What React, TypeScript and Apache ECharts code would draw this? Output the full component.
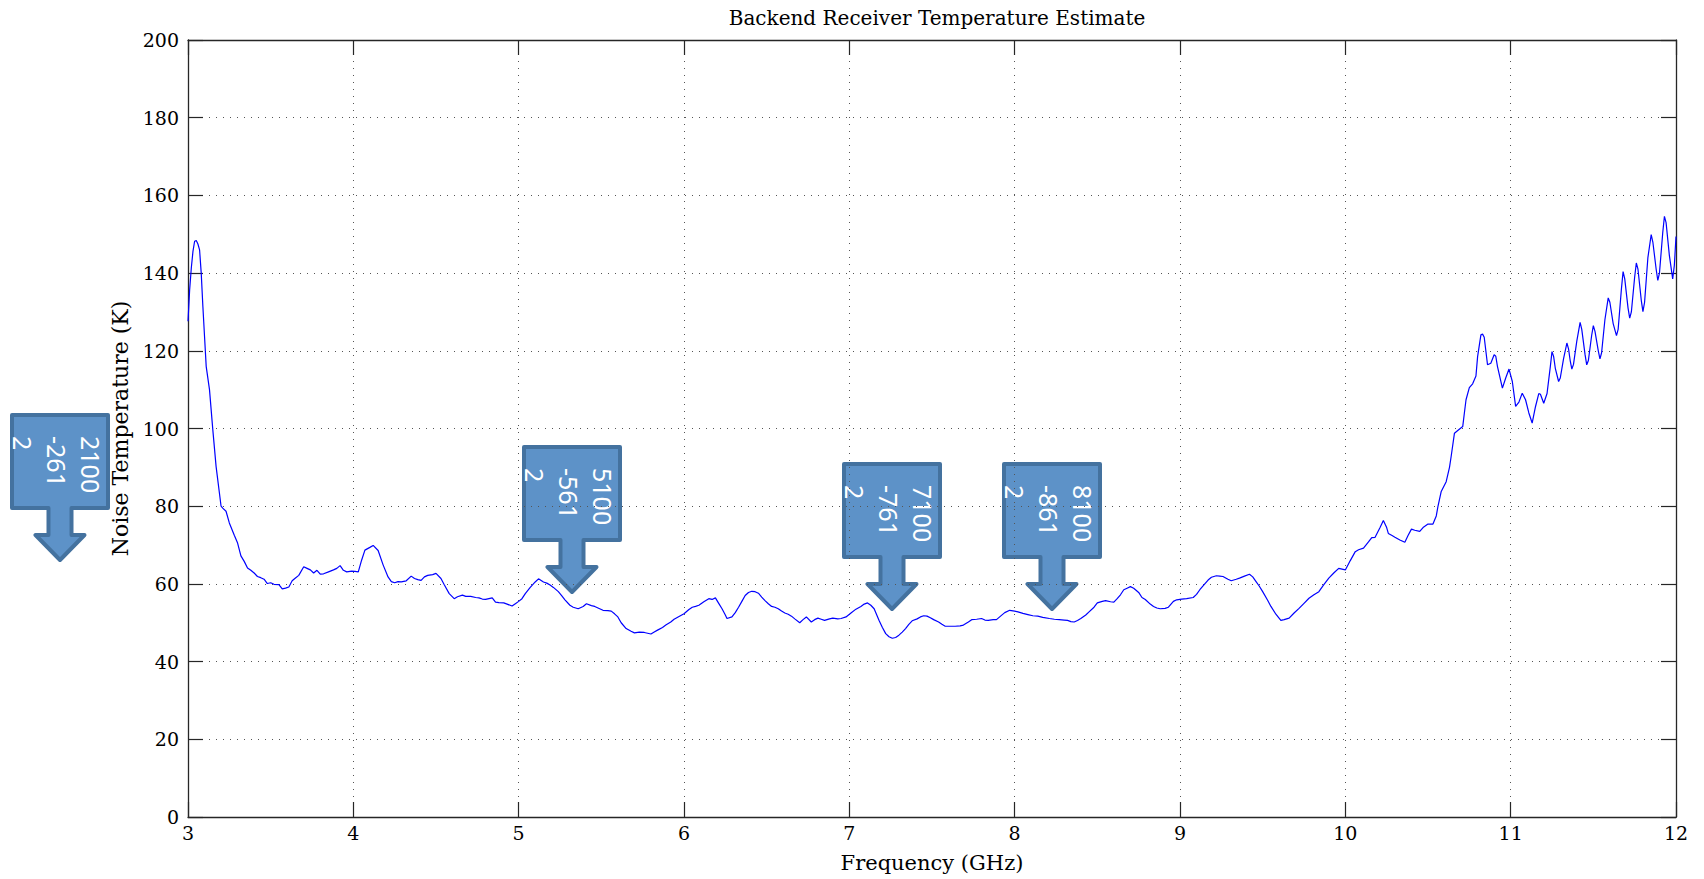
import React, { useEffect, useRef } from "react";
import * as echarts from "echarts";

const freq = [
  3.0, 3.01, 3.02, 3.03, 3.04, 3.05, 3.06, 3.07, 3.08, 3.09, 3.1, 3.11, 3.13, 3.15, 3.17, 3.19, 3.2, 3.21, 3.23, 3.25,
  3.28, 3.3, 3.32, 3.34, 3.36, 3.38, 3.4, 3.42, 3.44, 3.46, 3.48, 3.5, 3.52, 3.55, 3.57, 3.59, 3.61, 3.63, 3.65, 3.67,
  3.7, 3.72, 3.74, 3.76, 3.78, 3.8, 3.82, 3.85, 3.88, 3.9, 3.92, 3.94, 3.96, 3.99, 4.01, 4.03, 4.05, 4.07, 4.1, 4.12,
  4.15, 4.18, 4.21, 4.23, 4.25, 4.27, 4.29, 4.32, 4.35, 4.37, 4.39, 4.41, 4.43, 4.45, 4.48, 4.5, 4.53, 4.55, 4.58, 4.61,
  4.63, 4.66, 4.68, 4.71, 4.74, 4.76, 4.78, 4.8, 4.82, 4.84, 4.86, 4.88, 4.91, 4.93, 4.96, 4.98, 5.0, 5.02, 5.04, 5.07,
  5.1, 5.12, 5.15, 5.17, 5.19, 5.21, 5.24, 5.26, 5.28, 5.31, 5.33, 5.36, 5.39, 5.41, 5.44, 5.46, 5.49, 5.51, 5.54, 5.56,
  5.58, 5.6, 5.62, 5.65, 5.68, 5.7, 5.73, 5.76, 5.78, 5.8, 5.82, 5.84, 5.87, 5.89, 5.92, 5.94, 5.97, 6.0, 6.03, 6.05,
  6.07, 6.09, 6.12, 6.15, 6.17, 6.19, 6.21, 6.23, 6.25, 6.26, 6.29, 6.31, 6.33, 6.35, 6.37, 6.39, 6.41, 6.43, 6.45, 6.47,
  6.49, 6.51, 6.53, 6.55, 6.57, 6.59, 6.61, 6.63, 6.65, 6.67, 6.7, 6.72, 6.74, 6.77, 6.79, 6.81, 6.83, 6.85, 6.88, 6.9,
  6.93, 6.95, 6.98, 7.01, 7.04, 7.07, 7.09, 7.11, 7.13, 7.15, 7.18, 7.2, 7.22, 7.24, 7.26, 7.28, 7.3, 7.32, 7.34, 7.36,
  7.38, 7.41, 7.43, 7.45, 7.47, 7.49, 7.51, 7.54, 7.56, 7.58, 7.61, 7.64, 7.67, 7.69, 7.72, 7.74, 7.77, 7.8, 7.82, 7.84,
  7.87, 7.89, 7.92, 7.94, 7.97, 8.0, 8.02, 8.05, 8.08, 8.11, 8.14, 8.17, 8.21, 8.24, 8.27, 8.3, 8.32, 8.34, 8.36, 8.38,
  8.4, 8.43, 8.45, 8.48, 8.5, 8.53, 8.55, 8.58, 8.6, 8.62, 8.64, 8.66, 8.68, 8.7, 8.72, 8.75, 8.77, 8.79, 8.82, 8.84,
  8.86, 8.88, 8.91, 8.93, 8.96, 8.98, 9.01, 9.04, 9.08, 9.1, 9.12, 9.15, 9.17, 9.19, 9.22, 9.24, 9.26, 9.29, 9.31, 9.34,
  9.36, 9.39, 9.42, 9.44, 9.46, 9.48, 9.5, 9.53, 9.55, 9.58, 9.61, 9.63, 9.66, 9.69, 9.72, 9.75, 9.78, 9.81, 9.84, 9.87,
  9.9, 9.93, 9.96, 10.0, 10.03, 10.06, 10.08, 10.11, 10.14, 10.16, 10.18, 10.21, 10.23, 10.25, 10.26, 10.28, 10.3, 10.33, 10.36, 10.38,
  10.4, 10.42, 10.45, 10.47, 10.5, 10.53, 10.55, 10.56, 10.58, 10.61, 10.63, 10.64, 10.66, 10.68, 10.71, 10.72, 10.73, 10.75, 10.77, 10.79,
  10.8, 10.82, 10.83, 10.84, 10.86, 10.88, 10.9, 10.91, 10.92, 10.95, 10.97, 10.99, 11.01, 11.03, 11.05, 11.07, 11.09, 11.11, 11.13, 11.15,
  11.17, 11.18, 11.2, 11.22, 11.24, 11.25, 11.26, 11.27, 11.29, 11.3, 11.32, 11.34, 11.35, 11.36, 11.37, 11.38, 11.4, 11.42, 11.43, 11.45,
  11.46, 11.47, 11.49, 11.5, 11.51, 11.53, 11.54, 11.55, 11.57, 11.59, 11.6, 11.62, 11.64, 11.65, 11.67, 11.68, 11.69, 11.71, 11.72, 11.73,
  11.75, 11.76, 11.77, 11.79, 11.8, 11.81, 11.83, 11.85, 11.86, 11.88, 11.89, 11.9, 11.92, 11.93, 11.94, 11.96, 11.98, 11.99, 12.0,
];

const temp = [
  127.6, 135.7, 141.3, 145.6, 148.2, 148.4, 147.5, 146.0, 140.0, 131.4, 123.7, 116.0, 110.0, 99.7, 90.2, 83.4, 80.0, 79.5, 78.7, 75.7,
  72.5, 70.5, 67.2, 65.8, 64.1, 63.5, 62.8, 61.9, 61.6, 61.2, 60.1, 60.3, 59.9, 59.8, 58.7, 58.9, 59.2, 60.8, 61.5, 62.2,
  64.4, 64.0, 63.6, 62.8, 63.5, 62.5, 62.6, 63.1, 63.6, 64.0, 64.7, 63.5, 63.1, 63.3, 63.2, 63.1, 66.1, 68.7, 69.4, 69.9,
  68.6, 64.9, 61.8, 60.6, 60.3, 60.6, 60.5, 60.8, 62.0, 61.4, 61.1, 60.9, 61.8, 62.2, 62.4, 62.7, 61.4, 59.8, 57.5, 56.2,
  56.7, 57.1, 56.8, 56.8, 56.5, 56.4, 56.1, 56.0, 56.2, 56.4, 55.3, 55.2, 55.1, 54.8, 54.3, 54.9, 55.5, 56.2, 57.5, 59.1,
  60.5, 61.3, 60.5, 60.2, 59.7, 59.1, 58.0, 57.0, 55.9, 54.5, 54.0, 53.6, 54.2, 54.9, 54.4, 54.2, 53.6, 53.2, 53.1, 53.0,
  52.3, 51.5, 50.0, 48.5, 47.8, 47.4, 47.6, 47.5, 47.3, 47.1, 47.6, 48.1, 48.8, 49.4, 50.2, 50.9, 51.6, 52.3, 53.4, 54.0,
  54.2, 54.5, 55.4, 56.2, 56.0, 56.4, 55.0, 53.6, 52.0, 51.1, 51.5, 52.6, 54.0, 55.5, 57.0, 57.8, 58.1, 58.0, 57.6, 56.6,
  55.7, 54.9, 54.2, 54.0, 53.6, 53.0, 52.5, 52.2, 51.7, 51.0, 50.0, 50.8, 51.5, 50.2, 50.8, 51.2, 50.9, 50.6, 51.0, 51.2,
  51.0, 51.1, 51.5, 52.5, 53.5, 54.2, 54.8, 55.1, 54.5, 53.6, 50.6, 48.8, 47.2, 46.4, 46.0, 46.2, 46.8, 47.6, 48.5, 49.6,
  50.5, 51.0, 51.5, 51.8, 51.7, 51.3, 50.8, 50.2, 49.6, 49.1, 49.1, 49.1, 49.2, 49.4, 50.2, 50.8, 50.9, 51.1, 50.7, 50.6,
  50.8, 50.8, 51.9, 52.6, 53.2, 53.0, 52.8, 52.4, 52.1, 51.8, 51.7, 51.4, 51.1, 50.9, 50.8, 50.7, 50.6, 50.3, 50.2, 50.6,
  51.1, 52.0, 52.8, 54.0, 55.1, 55.5, 55.7, 55.4, 55.3, 56.2, 57.2, 58.5, 58.9, 59.3, 58.9, 57.8, 56.5, 56.0, 54.8, 54.2,
  53.8, 53.6, 53.7, 54.0, 55.5, 55.9, 56.1, 56.2, 56.5, 57.3, 58.5, 60.0, 61.0, 61.7, 62.1, 62.0, 61.9, 61.2, 60.8, 61.2,
  61.5, 62.0, 62.5, 61.8, 60.6, 59.4, 58.0, 55.8, 54.2, 52.2, 50.6, 50.8, 51.2, 52.5, 53.7, 55.0, 56.3, 57.2, 58.0, 59.8,
  61.5, 62.8, 64.0, 63.6, 66.0, 68.3, 68.8, 69.2, 70.8, 71.9, 72.0, 74.5, 76.3, 74.5, 73.0, 72.5, 72.0, 71.3, 70.7, 72.5,
  74.1, 73.8, 73.5, 74.5, 75.4, 75.4, 77.5, 79.9, 83.8, 86.3, 90.0, 92.8, 98.8, 99.5, 100.5, 104.0, 107.4, 110.5, 111.5, 113.5,
  118.5, 124.1, 124.3, 123.5, 116.4, 116.8, 119.0, 118.6, 116.0, 110.4, 113.0, 115.3, 112.1, 105.7, 106.8, 109.1, 107.4, 104.0, 101.4, 105.6,
  109.0, 108.8, 106.5, 109.0, 116.0, 119.8, 118.5, 115.5, 112.1, 113.0, 118.0, 122.0, 120.5, 117.5, 115.3, 116.5, 122.5, 127.3, 125.5, 119.0,
  116.4, 117.5, 124.0, 126.5, 125.0, 120.0, 117.9, 119.5, 128.0, 133.6, 132.5, 127.0, 123.9, 125.5, 136.0, 140.4, 138.5, 131.0, 128.4, 130.0,
  139.0, 142.6, 141.0, 133.0, 130.1, 132.5, 144.0, 149.9, 148.0, 141.0, 138.1, 140.0, 150.5, 154.6, 153.0, 144.5, 138.5, 142.0, 149.4,
];

const calloutLabels = [
  ["2100", "-261", "2"],
  ["5100", "-561", "2"],
  ["7100", "-761", "2"],
  ["8100", "-861", "2"],
];

// layout: top-left corner of each callout box (pixels)
const calloutBoxes = [
  [10, 413],
  [522, 445],
  [842, 462],
  [1002, 462],
];

const serif = "DejaVu Serif";

function calloutGraphic(left: number, top: number, lines: string[]) {
  const cx = left + 50;
  const pts = [
    [left + 2, top + 2],
    [left + 98, top + 2],
    [left + 98, top + 95],
    [cx + 11.5, top + 95],
    [cx + 11.5, top + 122],
    [cx + 24.5, top + 122],
    [cx, top + 147],
    [cx - 24.5, top + 122],
    [cx - 11.5, top + 122],
    [cx - 11.5, top + 95],
    [left + 2, top + 95],
  ];
  return {
    type: "group",
    z: 100,
    children: [
      {
        type: "polygon",
        shape: { points: pts },
        style: { fill: "#5D92C8", stroke: "#44729F", lineWidth: 4, lineJoin: "round" },
      },
      {
        type: "text",
        x: left + 98,
        y: top + 23,
        rotation: -Math.PI / 2,
        style: {
          text: lines.join("\n"),
          fill: "#ffffff",
          font: '25px "Noto Sans"',
          lineHeight: 34,
          align: "left",
          verticalAlign: "top",
          textAlign: "left",
          textVerticalAlign: "top",
        },
      },
    ],
  };
}

export default function App() {
  const ref = useRef<HTMLDivElement>(null);
  useEffect(() => {
    if (!ref.current) return;
    const chart = echarts.init(ref.current, undefined, { renderer: "svg" });
    const data = freq.map((f, i) => [f, temp[i]]);
    const axisColor = "#262626";
    const labelStyle = { color: "#000", fontFamily: serif, fontSize: 19 };
    chart.setOption({
      animation: false,
      backgroundColor: "#ffffff",
      title: {
        text: "Backend Receiver Temperature Estimate",
        left: 932,
        textAlign: "center",
        top: 3,
        textStyle: { fontFamily: serif, fontSize: 20, fontWeight: "normal", color: "#000" },
      },
      grid: { left: 188, right: 28, top: 40, bottom: 62, containLabel: false },
      xAxis: [
        {
          type: "value",
          position: "bottom",
          min: 3,
          max: 12,
          interval: 1,
          name: "Frequency (GHz)",
          nameLocation: "middle",
          nameGap: 35,
          nameTextStyle: { fontFamily: serif, fontSize: 21, color: "#000" },
          axisLine: { show: true, onZero: false, lineStyle: { color: axisColor, width: 1.3 } },
          axisTick: { show: true, inside: true, length: 15, lineStyle: { color: axisColor, width: 1.2 } },
          axisLabel: { ...labelStyle, margin: 6 },
          splitLine: { show: true, lineStyle: { color: "#555", type: [1, 6], width: 1 } },
        },
        {
          type: "value",
          position: "top",
          min: 3,
          max: 12,
          interval: 1,
          axisLine: { show: true, onZero: false, lineStyle: { color: axisColor, width: 1.3 } },
          axisTick: { show: true, inside: true, length: 15, lineStyle: { color: axisColor, width: 1.2 } },
          axisLabel: { show: false },
          splitLine: { show: false },
        },
      ],
      yAxis: [
        {
          type: "value",
          position: "left",
          min: 0,
          max: 200,
          interval: 20,
          name: "Noise Temperature (K)",
          nameLocation: "middle",
          nameGap: 53,
          nameTextStyle: { fontFamily: serif, fontSize: 22, color: "#000" },
          axisLine: { show: true, onZero: false, lineStyle: { color: axisColor, width: 1.3 } },
          axisTick: { show: true, inside: true, length: 15, lineStyle: { color: axisColor, width: 1.2 } },
          axisLabel: { ...labelStyle, margin: 9 },
          splitLine: { show: true, lineStyle: { color: "#555", type: [1, 6], width: 1 } },
        },
        {
          type: "value",
          position: "right",
          min: 0,
          max: 200,
          interval: 20,
          axisLine: { show: true, onZero: false, lineStyle: { color: axisColor, width: 1.3 } },
          axisTick: { show: true, inside: true, length: 15, lineStyle: { color: axisColor, width: 1.2 } },
          axisLabel: { show: false },
          splitLine: { show: false },
        },
      ],
      series: [
        {
          type: "line",
          xAxisIndex: 0,
          yAxisIndex: 0,
          data,
          showSymbol: false,
          symbol: "none",
          lineStyle: { color: "#0000ff", width: 1.2 },
          silent: true,
        },
      ],
      graphic: calloutLabels.map((lines, i) => calloutGraphic(calloutBoxes[i][0], calloutBoxes[i][1], lines)),
    });
    return () => chart.dispose();
  }, []);
  return (
    <div
      ref={ref}
      style={{ position: "absolute", left: 0, top: 0, width: 1704, height: 879, background: "#fff" }}
    />
  );
}
